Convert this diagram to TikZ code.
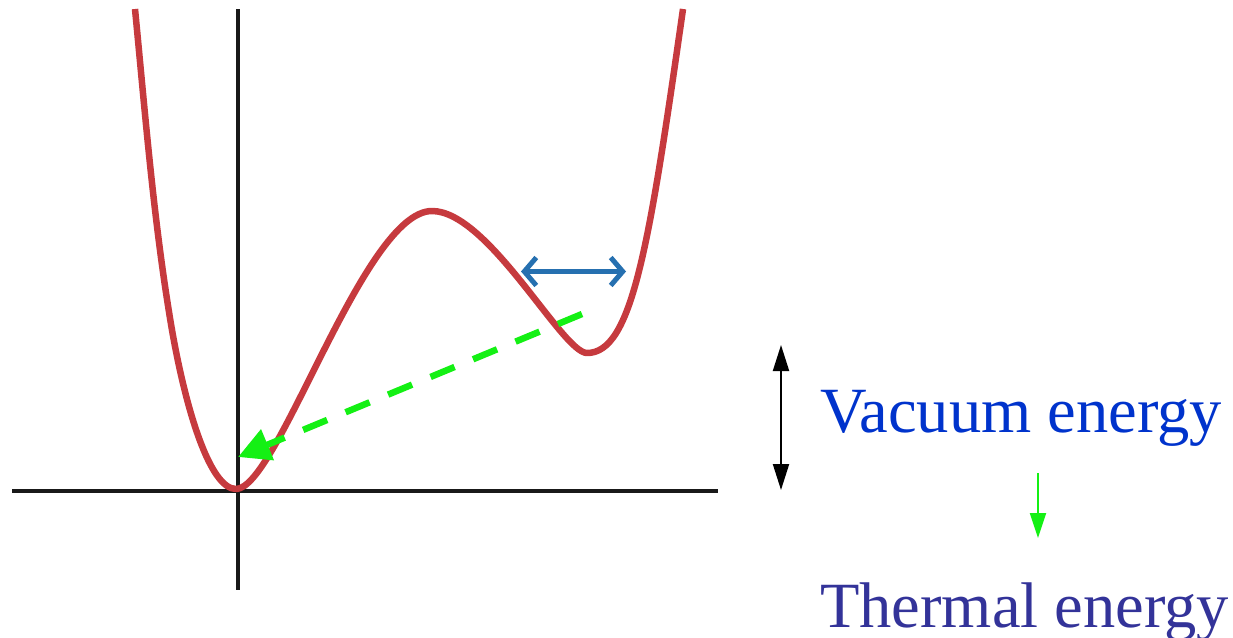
\documentclass[tikz,border=0pt]{standalone}
\usepackage{fontspec}
\setmainfont{Liberation Serif}
\usetikzlibrary{arrows.meta}
\definecolor{curvered}{RGB}{198,58,62}
\definecolor{swingblue}{RGB}{38,112,176}
\definecolor{brightgreen}{RGB}{20,240,20}
\definecolor{vacblue}{RGB}{0,51,204}
\definecolor{thermblue}{RGB}{51,51,153}
\tikzset{
  axisline/.style={line width=3.4pt,black!90},
  potential/.style={line width=6.5pt,curvered,line join=round},
  swing/.style={line width=5pt,swingblue,{Straight Barb[length=12pt,width=28pt]}-{Straight Barb[length=12pt,width=28pt]}},
  decay/.style={line width=6.5pt,brightgreen,dash pattern=on 26pt off 20pt,-{Triangle[length=32pt,width=32pt]}},
  scalearrow/.style={line width=2pt,black,{Triangle[length=26pt,width=16pt]}-{Triangle[length=26pt,width=16pt]}},
  smallarrow/.style={line width=2pt,brightgreen,-{Triangle[length=25pt,width=16pt]}},
  textlabel/.style={inner sep=0pt,anchor=base west,font=\fontsize{64.5}{77}\selectfont}
}
\begin{document}
\begin{tikzpicture}[x=1pt,y=-1pt]
\useasboundingbox (0,0) rectangle (1233,637);
% axes
\coordinate (xl) at (12,491);
\coordinate (xr) at (718,491);
\coordinate (yt) at (238,9);
\coordinate (yb) at (238,590);
\draw[axisline] (xl) -- (xr);
\draw[axisline] (yt) -- (yb);
% potential
\coordinate (lt) at (135,9);
\coordinate (lm) at (172,330);
\coordinate (gmin) at (236,489);
\coordinate (peak) at (432,211);
\coordinate (fmin) at (587,353);
\coordinate (rt) at (683,9);
\draw[potential] (lt) .. controls (145.7,119) and (154,225) .. (lm)
  .. controls (186,410) and (210,489) .. (gmin)
  .. controls (277.8,489) and (363.5,211) .. (peak)
  .. controls (488.3,211) and (562.4,353) .. (fmin)
  .. controls (632,353) and (648.7,249) .. (rt);
% blue oscillation arrow
\coordinate (bl) at (521,271.5);
\coordinate (br) at (626,271.5);
\draw[swing] (bl) -- (br);
% green decay arrow
\coordinate (fv) at (582,314);
\coordinate (tv) at (238,457);
\draw[decay] (fv) -- (tv);
% right side
\coordinate (ba) at (781,345);
\coordinate (bb) at (781,490);
\draw[scalearrow] (ba) -- (bb);
\node[textlabel,text=vacblue] (vac) at (820,432) {Vacuum energy};
\node[textlabel,text=thermblue] (therm) at (820,627) {Thermal energy};
\coordinate (ga) at (1038,473);
\coordinate (gb) at (1038,538);
\draw[smallarrow] (ga) -- (gb);
\end{tikzpicture}
\end{document}
